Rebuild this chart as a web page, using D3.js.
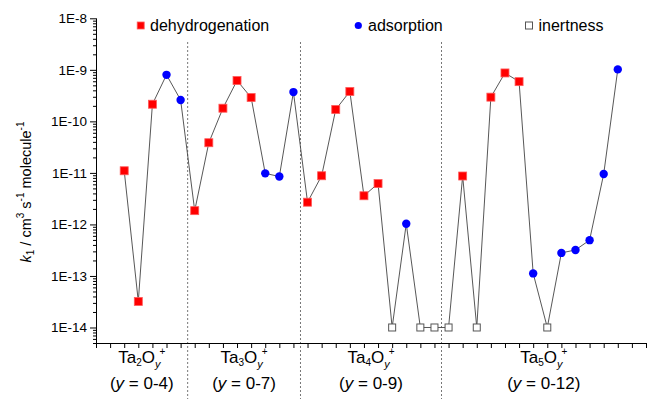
<!DOCTYPE html>
<html><head><meta charset="utf-8">
<script src="https://cdn.jsdelivr.net/npm/d3@7"></script>
<style>body{margin:0;background:#fff}svg{display:block;font-family:"Liberation Sans",Arial,sans-serif}</style>
</head><body><svg id="c" width="648" height="399"></svg>
<script>
// ---- data ----
const groupNames = ["Ta2", "Ta3", "Ta4", "Ta5"];
const groupSub = ["2", "3", "4", "5"];
const groupRanges = ["0-4", "0-7", "0-9", "0-12"];
const ta2Values = [1.1e-11, 3.2e-14, 2.15e-10, 8.0e-10, 2.6e-10];
const ta2Types  = ["d", "d", "d", "a", "a"];
const ta3Values = [1.85e-12, 3.85e-11, 1.8e-10, 6.2e-10, 2.9e-10, 9.8e-12, 8.5e-12, 3.7e-10];
const ta3Types  = ["d", "d", "d", "d", "d", "a", "a", "a"];
const ta4Values = [2.7e-12, 8.8e-12, 1.7e-10, 3.8e-10, 3.6e-12, 6.2e-12, 1e-14, 1.03e-12, 1e-14, 1e-14];
const ta4Types  = ["d", "d", "d", "d", "d", "d", "i", "a", "i", "i"];
const ta5Values = [1e-14, 8.7e-12, 1e-14, 2.95e-10, 8.7e-10, 5.9e-10, 1.12e-13, 1e-14, 2.8e-13, 3.2e-13, 4.95e-13, 9.5e-12, 1.02e-9];
const ta5Types  = ["i", "d", "i", "d", "d", "d", "a", "i", "a", "a", "a", "a", "a"];
const yTickExponents = [-14, -13, -12, -11, -10, -9, -8];
const legendLabels = {d: "dehydrogenation", a: "adsorption", i: "inertness"};

const groupValues = [ta2Values, ta3Values, ta4Values, ta5Values];
const groupTypes = [ta2Types, ta3Types, ta4Types, ta5Types];

// ---- layout ----
const L = 96, R = 646, T = 18.3, B = 343;
const startIndex = 2, xMax = 39;
const svg = d3.select("#c");
const x = d3.scaleLinear().domain([0, xMax]).range([L, R]);
const y = d3.scaleLog().domain([5e-15, 1e-8]).range([B, T]);

// build points
const points = [];
const bounds = [];
let idx = startIndex;
groupValues.forEach((vals, g) => {
  const s = idx;
  vals.forEach((v, k) => { points.push({i: idx, v, t: groupTypes[g][k], g}); idx++; });
  bounds.push([s, idx - 1]);
});
const seps = bounds.slice(0, -1).map((b, k) => (b[1] + bounds[k + 1][0]) / 2);

// separators
svg.append("g").selectAll("line").data(seps).join("line")
  .attr("x1", d => x(d)).attr("x2", d => x(d))
  .attr("y1", 42).attr("y2", 399)
  .attr("stroke", "#777").attr("stroke-width", 1).attr("stroke-dasharray", "2,2");

// x axis
const xAxis = d3.axisBottom(x).tickValues(d3.range(0, xMax + 1)).tickSize(5).tickFormat("");
const gx = svg.append("g").attr("transform", `translate(0,${B})`).call(xAxis);
gx.select(".domain").attr("stroke", "#000").attr("d", `M${L},0.5H${R}`);
gx.selectAll(".tick line").attr("stroke", "#000");

// y axis
const majors = yTickExponents.map(e => Math.pow(10, e));
const minors = [];
for (let e = -15; e <= -9; e++) for (let m = 2; m <= 9; m++) {
  const v = m * Math.pow(10, e);
  if (v >= 5e-15 && v <= 1e-8) minors.push(v);
}
const gyMinor = svg.append("g").attr("transform", `translate(${L},0)`)
  .call(d3.axisLeft(y).tickValues(minors).tickSize(3).tickFormat(""));
gyMinor.select(".domain").remove();
gyMinor.selectAll(".tick line").attr("stroke", "#000");
const gy = svg.append("g").attr("transform", `translate(${L},0)`)
  .call(d3.axisLeft(y).tickValues(majors).tickSize(6).tickPadding(3)
    .tickFormat(d => "1E" + Math.round(Math.log10(d))));
gy.select(".domain").attr("stroke", "#000").attr("d", `M0.5,${B}V${T}`);
gy.selectAll(".tick line").attr("stroke", "#000");
gy.selectAll(".tick text").attr("font-size", 13.5).attr("fill", "#000")
  .attr("font-family", '"Liberation Sans",Arial,sans-serif');

// connecting line
svg.append("path").datum(points)
  .attr("d", d3.line().x(d => x(d.i)).y(d => y(d.v)))
  .attr("fill", "none").attr("stroke", "#444").attr("stroke-width", 0.9);

// markers
function drawMarker(sel, t, cx, cy, legend) {
  if (t === "d") {
    const s = legend ? 7 : 8;
    sel.append("rect").attr("x", cx - s / 2).attr("y", cy - s / 2).attr("width", s).attr("height", s)
      .attr("fill", "#ff0000").attr("stroke", "#ff5a5a").attr("stroke-width", 0.8);
  } else if (t === "a") {
    sel.append("circle").attr("cx", cx).attr("cy", cy).attr("r", legend ? 3.6 : 4.2).attr("fill", "#0000ff");
  } else {
    const s = 7;
    sel.append("rect").attr("x", cx - s / 2).attr("y", cy - s / 2).attr("width", s).attr("height", s)
      .attr("fill", "#fff").attr("stroke", "#555").attr("stroke-width", 1);
  }
}
const gm = svg.append("g");
points.forEach(p => drawMarker(gm, p.t, x(p.i), y(p.v), false));

// legend
const legendItems = [{t: "d", mx: 140.7, tx: 150}, {t: "a", mx: 358.3, tx: 368}, {t: "i", mx: 529, tx: 538.5}];
const gl = svg.append("g");
legendItems.forEach(it => {
  drawMarker(gl, it.t, it.mx, 25.5, true);
  gl.append("text").attr("x", it.tx).attr("y", 31).attr("font-size", 16).attr("fill", "#000")
    .text(legendLabels[it.t]);
});

// category labels
const edges = [L, ...seps.map(s => x(s)), R];
groupNames.forEach((name, g) => {
  const cx = (edges[g] + edges[g + 1]) / 2;
  const t1 = svg.append("text").attr("x", cx).attr("y", 363).attr("text-anchor", "middle")
    .attr("font-size", 17).attr("fill", "#000");
  t1.append("tspan").text("Ta");
  t1.append("tspan").attr("font-size", 10).attr("dy", 3).text(groupSub[g]);
  t1.append("tspan").attr("dy", -3).text("O");
  t1.append("tspan").attr("font-size", 11).attr("font-style", "italic").attr("dy", 5).text("y");
  t1.append("tspan").attr("font-size", 10).attr("dx", -1).attr("dy", -13).text("+");
  const t2 = svg.append("text").attr("x", cx).attr("y", 389).attr("text-anchor", "middle")
    .attr("font-size", 17).attr("fill", "#000");
  t2.append("tspan").text("(");
  t2.append("tspan").attr("font-style", "italic").text("y");
  t2.append("tspan").text(" = " + groupRanges[g] + ")");
});

// y axis title
const yt = svg.append("text").attr("transform", "translate(31,192) rotate(-90)")
  .attr("text-anchor", "middle").attr("font-size", 14.5).attr("fill", "#000");
yt.append("tspan").attr("font-style", "italic").text("k");
yt.append("tspan").attr("font-size", 10).attr("dy", 3).text("1");
yt.append("tspan").attr("dy", -3).text(" / cm");
yt.append("tspan").attr("font-size", 10).attr("dy", -7).text("3");
yt.append("tspan").attr("dy", 7).text(" s");
yt.append("tspan").attr("font-size", 10).attr("dy", -7).text("-1");
yt.append("tspan").attr("dy", 7).text(" molecule");
yt.append("tspan").attr("font-size", 10).attr("dy", -7).text("-1");
</script></body></html>
